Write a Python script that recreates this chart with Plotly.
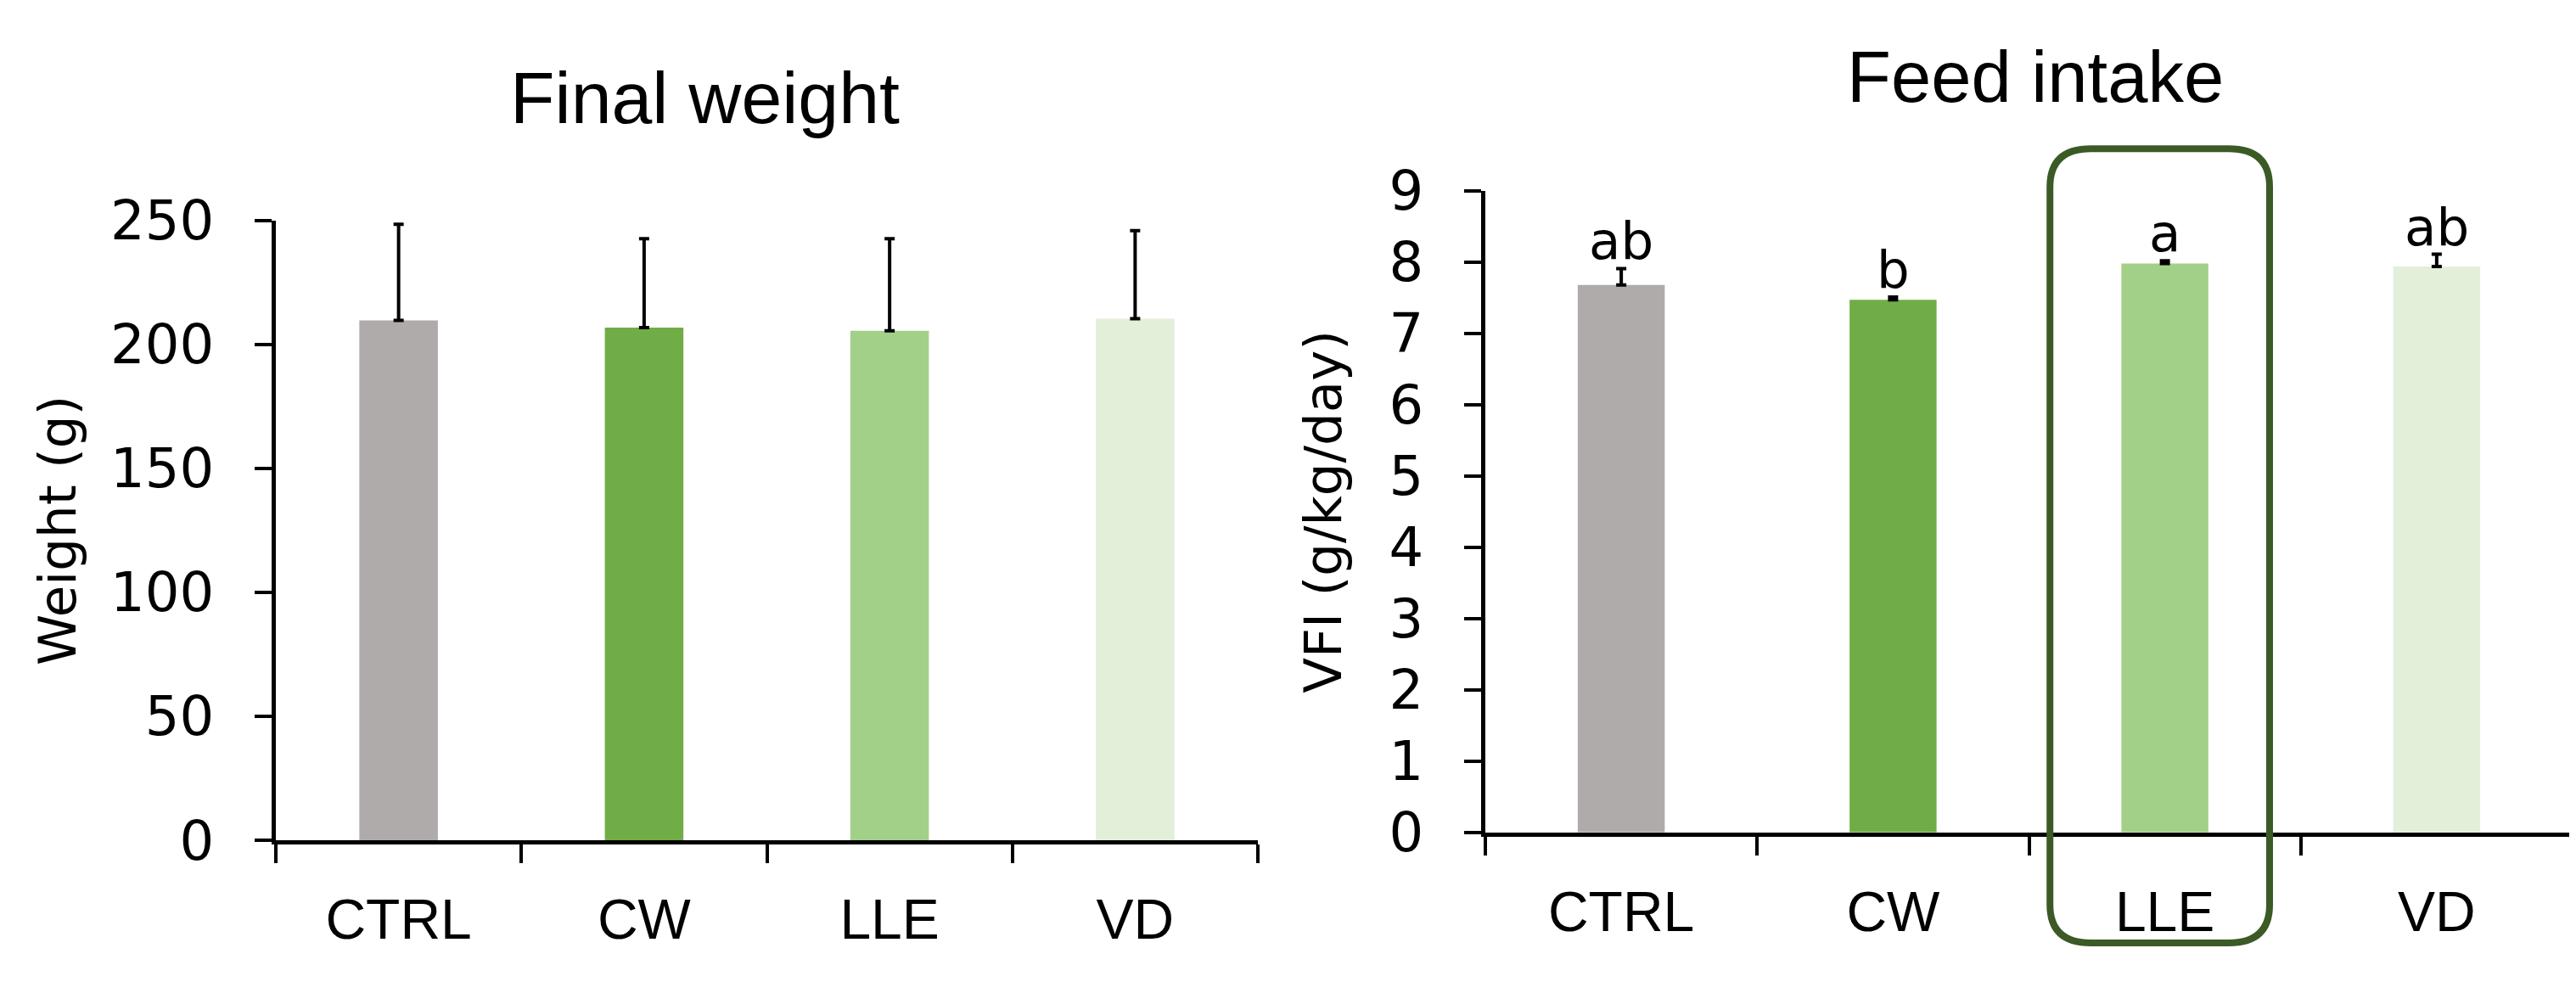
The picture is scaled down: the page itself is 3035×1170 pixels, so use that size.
import plotly.graph_objects as go

# ---------------- data ----------------
categories = ["CTRL", "CW", "LLE", "VD"]
bar_colors = ["#AFABAB", "#70AD47", "#A3D088", "#E3EFD8"]

weight_mean = [209.6, 206.7, 205.4, 210.3]
weight_err = [38.8, 35.9, 37.2, 35.5]
weight_ticks = [0, 50, 100, 150, 200, 250]

vfi_mean = [7.68, 7.47, 7.98, 7.94]
vfi_err = [0.23, 0.04, 0.04, 0.17]
vfi_letters = ["ab", "b", "a", "ab"]
vfi_ticks = [0, 1, 2, 3, 4, 5, 6, 7, 8, 9]

highlight = "LLE"

# ---------------- page geometry (pixels; page body adds an 8px offset) ----------------
W, H = 3035, 1170
OFF = 8


def px(x):
    return (x - OFF) / W


def py(y):
    return 1 - (y - OFF) / H


left_dom_x = [px(325), px(1482)]
left_dom_y = [py(1017), py(237)]
right_dom_x = [px(1750), px(3031)]
right_dom_y = [py(1007), py(200)]

ARIAL = "Liberation Sans, Arial, sans-serif"
GOTH = "DejaVu Sans, Verdana, sans-serif"

fig = go.Figure()

fig.add_trace(go.Bar(
    x=categories, y=weight_mean, width=0.32,
    marker=dict(color=bar_colors, line=dict(width=0)),
    error_y=dict(type="data", symmetric=False, array=weight_err,
                 arrayminus=[0] * len(weight_err),
                 color="black", thickness=4, width=6),
    xaxis="x", yaxis="y", showlegend=False,
))

fig.add_trace(go.Bar(
    x=categories, y=vfi_mean, width=0.32,
    marker=dict(color=bar_colors, line=dict(width=0)),
    error_y=dict(type="data", symmetric=False, array=vfi_err,
                 arrayminus=[0] * len(vfi_err),
                 color="black", thickness=4, width=6),
    xaxis="x2", yaxis="y2", showlegend=False,
))

xcommon = dict(
    type="category", tickson="boundaries", ticks="outside", ticklen=22,
    tickwidth=4, tickcolor="black", showline=True, linewidth=5,
    linecolor="black", showgrid=False, zeroline=False,
    tickfont=dict(family=ARIAL, size=66, color="black"),
    ticklabelstandoff=32, fixedrange=True,
)
ycommon = dict(
    ticks="outside", ticklen=20, tickwidth=4, tickcolor="black",
    showline=True, linewidth=5, linecolor="black", showgrid=False,
    zeroline=False, tickfont=dict(family=GOTH, size=64, color="black"),
    ticklabelstandoff=35,
)

fig.update_layout(
    width=W, height=H,
    margin=dict(l=0, r=0, t=0, b=0),
    paper_bgcolor="white", plot_bgcolor="white",
    xaxis=dict(domain=left_dom_x, anchor="y", range=[-0.5, 3.5], **xcommon),
    yaxis=dict(domain=left_dom_y, anchor="x", range=[0, 250],
               tickvals=weight_ticks, ticktext=[str(t) for t in weight_ticks],
               title=dict(text="Weight (g)", font=dict(family=GOTH, size=61, color="black"),
                          standoff=22),
               **ycommon),
    xaxis2=dict(domain=right_dom_x, anchor="y2", range=[-0.5, 3.5], **xcommon),
    yaxis2=dict(domain=right_dom_y, anchor="x2", range=[0, 9],
                tickvals=vfi_ticks, ticktext=[str(t) for t in vfi_ticks],
                title=dict(text="VFI (g/kg/day)", font=dict(family=GOTH, size=61, color="black"),
                           standoff=38),
                **ycommon),
)

# panel titles
fig.add_annotation(text="Final weight", x=px(830), y=py(83), xref="paper", yref="paper",
                   xanchor="center", yanchor="middle", showarrow=False,
                   font=dict(family=ARIAL, size=86, color="black"))
fig.add_annotation(text="Feed intake", x=px(2398), y=py(57), xref="paper", yref="paper",
                   xanchor="center", yanchor="middle", showarrow=False,
                   font=dict(family=ARIAL, size=85, color="black"))

# significance letters above the error bars
for cat, m, e, lab in zip(categories, vfi_mean, vfi_err, vfi_letters):
    fig.add_annotation(text=lab, x=cat, y=m + e, xref="x2", yref="y2",
                       xanchor="center", yanchor="bottom", showarrow=False,
                       yshift=-5,
                       font=dict(family=GOTH, size=61, color="black"))

# rounded highlight box around one group
idx = categories.index(highlight)
d0, d1 = right_dom_x
cw = (d1 - d0) / len(categories)
cx = d0 + (idx + 0.5) * cw - 6 / W
half_w = 0.404 * cw
x0, x1 = cx - half_w, cx + half_w
y0, y1 = py(1146), py(147)
rx, ry = 48 / W, 48 / H
path = (f"M {x0 + rx},{y1} L {x1 - rx},{y1} Q {x1},{y1} {x1},{y1 - ry} "
        f"L {x1},{y0 + ry} Q {x1},{y0} {x1 - rx},{y0} "
        f"L {x0 + rx},{y0} Q {x0},{y0} {x0},{y0 + ry} "
        f"L {x0},{y1 - ry} Q {x0},{y1} {x0 + rx},{y1} Z")
fig.add_shape(type="path", path=path, xref="paper", yref="paper",
              line=dict(color="#3B5A26", width=8), fillcolor="rgba(0,0,0,0)",
              layer="above")

fig.write_html("out.html")
